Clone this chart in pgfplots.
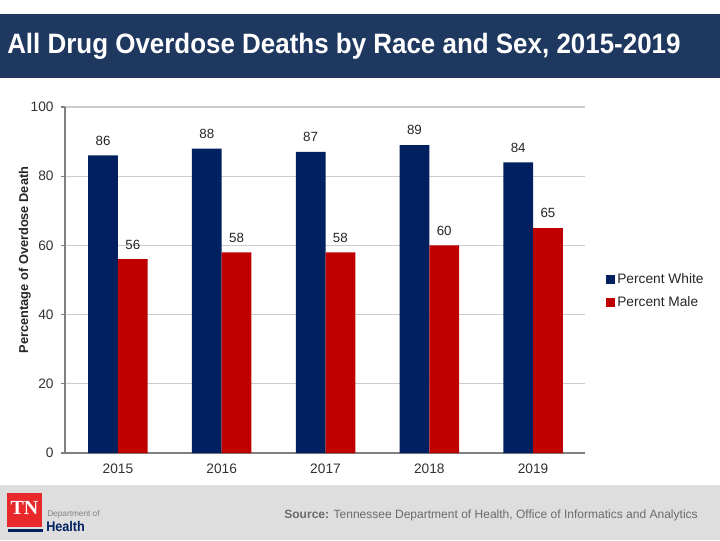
\documentclass[border=0pt]{standalone}
\usepackage{pgfplots}
\pgfplotsset{compat=1.18}
\usepackage{graphicx}
\usepackage{fontspec}
\setmainfont{Liberation Sans}
\newfontfamily\serifbold{Liberation Serif}
\definecolor{titleblue}{RGB}{31,56,96}
\definecolor{barblue}{RGB}{0,32,96}
\definecolor{barred}{RGB}{192,0,0}
\definecolor{footgrey}{RGB}{222,222,222}
\definecolor{tnred}{RGB}{232,40,43}

\begin{document}
\begin{tikzpicture}[x=0.75pt,y=0.75pt]
\useasboundingbox (0,0) rectangle (720,540);
% slide background, title band, footer band (pixel coords, y measured from bottom)
\fill[white] (0,0) rectangle (720,540);
\fill[titleblue] (0,462) rectangle (720,526);
\fill[footgrey] (0,0) rectangle (720,55);
\node[anchor=base west,text=white,font=\bfseries\fontsize{21}{24}\selectfont,inner sep=0pt]
  at (7,486) {\resizebox{505pt}{\height}{All Drug Overdose Deaths by Race and Sex, 2015-2019}};

\begin{axis}[
    at={(48.75pt,65.25pt)}, anchor=south west,
    scale only axis,
    width=390pt, height=259.5pt,
    ybar=0pt, bar width=22.3pt,
    ymin=0, ymax=100,
    ytick={0,20,...,100},
    xmin=-0.51, xmax=4.5,
    xtick={0,1,2,3,4},
    xticklabels={2015,2016,2017,2018,2019},
    major x tick style={draw=none},
    xticklabel style={yshift=-2pt},
    ymajorgrids=true,
    grid style={draw=black!20, line width=0.8pt},
    axis line style={draw=black!50, line width=0.9pt},
    axis x line*=bottom, axis y line*=left,
    y tick style={draw=black!50, line width=0.9pt},
    tick align=outside, major tick length=3pt,
    ticklabel style={font=\fontsize{10.3}{12}\selectfont, text=black!80},
    yticklabel style={xshift=-2pt},
    /pgf/number format/assume math mode=true,
    ylabel={\bfseries Percentage of Overdose Death},
    every axis y label/.style={at={(axis description cs:-0.077,0.558)}, rotate=90,
      anchor=center, font=\fontsize{9.6}{11}\selectfont, text=black!85},
    nodes near coords,
    every node near coord/.append style={font=\fontsize{10}{11}\selectfont, text=black!85, yshift=4pt},
    legend style={at={(1.040,0.468)}, anchor=west, draw=none, fill=none,
      font=\fontsize{10.3}{12}\selectfont, text=black!85, row sep=4pt,
      inner sep=0pt},
    legend cell align=left,
    legend image code/.code={\fill[#1] (0pt,-3.2pt) rectangle (6.4pt,3.2pt);},
    clip=false,
]
\addplot[fill=barblue, draw=none] coordinates {(0,86) (1,88) (2,87) (3,89) (4,84)};
\addlegendentry{Percent White}
\addplot[fill=barred, draw=none] coordinates {(0,56) (1,58) (2,58) (3,60) (4,65)};
\addlegendentry{Percent Male}
\end{axis}

% footer: logo and source
\fill[tnred] (7,13) rectangle (42,47);
\node[text=white,font=\serifbold\bfseries\fontsize{15}{16}\selectfont,inner sep=0pt] at (24.5,32) {TN};
\fill[barblue] (8,8.5) rectangle (43,11);
\node[anchor=base west,inner sep=0pt,text=black!50,font=\fontsize{6.2}{7}\selectfont] at (47,24) {Department of};
\node[anchor=base west,inner sep=0pt,text=barblue,font=\bfseries\fontsize{10.5}{12}\selectfont] at (46,9)
  {\resizebox{29pt}{\height}{Health}};
\node[anchor=base east,inner sep=0pt,text=black!58,font=\fontsize{9}{10}\selectfont] at (698,22)
  {\resizebox{310pt}{\height}{\textbf{Source:} Tennessee Department of Health, Office of Informatics and Analytics}};
\end{tikzpicture}
\end{document}
